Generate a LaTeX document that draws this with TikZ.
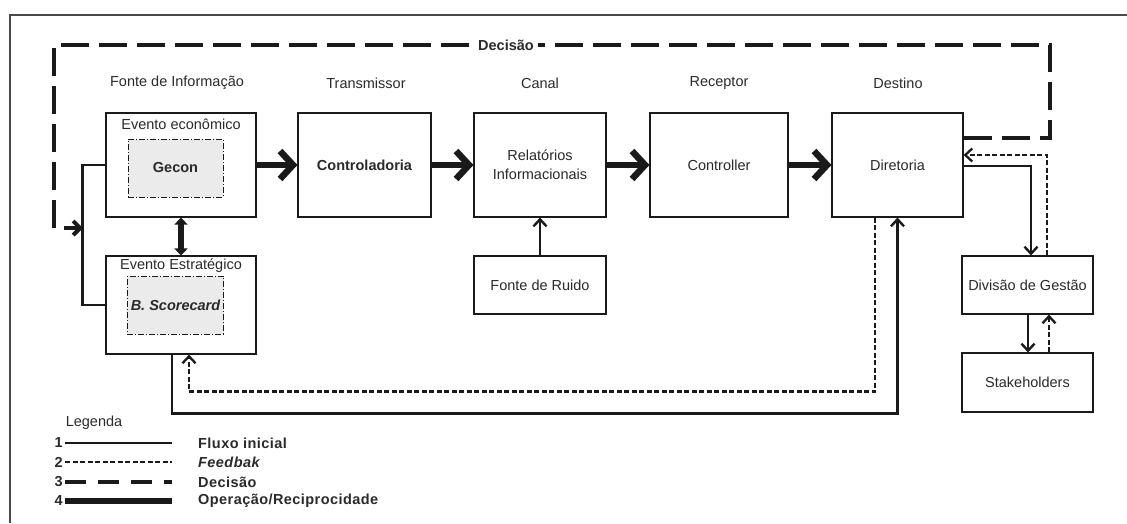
\documentclass[tikz,border=0pt]{standalone}
\usepackage{fontspec}
\setmainfont{Liberation Sans}
\usetikzlibrary{arrows.meta}
\definecolor{ink}{HTML}{1A1A1A}
\definecolor{txt}{HTML}{2A2A2A}
\definecolor{shade}{HTML}{EBEBEB}
\definecolor{framec}{HTML}{4A4A4A}
\begin{document}
\begin{tikzpicture}[x=1pt,y=-1pt,
  lbl/.style={font=\fontsize{14.5}{17}\selectfont, text=txt, inner sep=0pt},
  box/.style={draw=ink, line width=1.1pt, fill=white, inner sep=2pt, align=center,
    font=\fontsize{14.5}{19}\selectfont, text=txt},
  innerbox/.style={draw=ink, line width=1pt, dash pattern=on 6pt off 2pt on 1pt off 2pt,
    fill=shade, minimum width=95pt, minimum height=58pt,
    font=\fontsize{14.5}{17}\selectfont, text=txt},
  flow/.style={draw=ink, line width=2.4pt},
  tipflow/.style={-{Straight Barb[length=7pt,width=13pt]}},
  fb/.style={draw=ink, line width=2.3pt, dash pattern=on 5pt off 2.5pt},
  dec/.style={draw=ink, line width=4pt, dash pattern=on 28pt off 10pt},
  op/.style={draw=ink, line width=6.5pt, -{Straight Barb[length=13pt,width=28pt]}},
  legtext/.style={font=\bfseries\fontsize{14.5}{17}\selectfont\addfontfeature{LetterSpace=3},
    text=txt, inner sep=0pt, anchor=west},
  legnum/.style={font=\bfseries\fontsize{14.5}{17}\selectfont, text=txt, inner sep=0pt, anchor=east},
]
\useasboundingbox (0,0) rectangle (1127,523);

% outer frame
\draw[framec, line width=1.3pt] (10,523) -- (10,15) -- (1127,15);

% column headings
\node[lbl] (h1) at (177,83) {Fonte de Informação};
\node[lbl] (h2) at (366,83) {Transmissor};
\node[lbl] (h3) at (540,83) {Canal};
\node[lbl] (h4) at (719,83) {Receptor};
\node[lbl] (h5) at (898,83) {Destino};

% information source: two events
\node[box, minimum width=150pt, minimum height=104pt] (ee) at (181,165) {};
\node[innerbox] (gecon) at (175.5,168) {\bfseries Gecon};
\node[lbl] (eelbl) at (181,124) {Evento econômico};
\node[box, minimum width=150pt, minimum height=98pt] (es) at (181,305) {};
\node[innerbox] (bsc) at (175.5,305) {\bfseries\itshape B. Scorecard};
\node[lbl] (eslbl) at (181,266) {Evento Estratégico};

% main chain
\node[box, minimum width=133pt, minimum height=104pt] (ctrl) at (364.5,165) {\bfseries Controladoria};
\node[box, minimum width=132pt, minimum height=104pt] (rel) at (540,165) {Relatórios\\Informacionais};
\node[box, minimum width=132pt, minimum height=58pt] (ruido) at (540,285) {Fonte de Ruido};
\node[box, minimum width=138pt, minimum height=104pt] (rec) at (719,165) {Controller};
\node[box, minimum width=131pt, minimum height=104pt] (dir) at (897.5,165) {Diretoria};
\node[box, minimum width=131pt, minimum height=58pt] (div) at (1027.5,285) {Divisão de Gestão};
\node[box, minimum width=131pt, minimum height=59pt] (stk) at (1027.5,382.5) {Stakeholders};

% operation arrows
\draw[op] (ee) -- (ctrl);
\draw[op] (ctrl) -- (rel);
\draw[op] (rel) -- (rec);
\draw[op] (rec) -- (dir);
\draw[draw=ink, line width=5.5pt,
  {Triangle[length=7pt,width=13pt]}-{Triangle[length=7pt,width=13pt]}] (ee) -- (es);

% initial flow
\draw[flow] (ee.west) -- ++(-23,0) |- (es.west);
\draw[flow, tipflow] (ruido) -- (rel);
\draw[flow, tipflow] ([yshift=-1pt]dir.east) -| ([xshift=3.5pt]div.north);
\draw[flow, tipflow] ([xshift=0.5pt]div.south) -- ([xshift=0.5pt]stk.north);
\draw[flow, tipflow] ([xshift=-9pt]es.south) -- ++(0,59) -| (dir.south);

% feedback
\draw[fb, tipflow] ([xshift=19.5pt]div.north) |- ([yshift=10pt]dir.east);
\draw[fb, tipflow] ([xshift=21.5pt]stk.north) -- ([xshift=21.5pt]div.south);
\draw[fb, tipflow] ([xshift=-22.5pt]dir.south) -- ++(0,174) -| ([xshift=8pt]es.south);

% decision loop
\coordinate (decin) at (83,228);
\draw[dec, -{Straight Barb[length=7pt,width=14pt]}]
  ([yshift=27pt]dir.east) -- (1050,138) -- (1050,45) -- (54,45) -- (54,228) -- (decin);
\node[fill=white, inner sep=4pt, font=\bfseries\fontsize{14.5}{17}\selectfont, text=txt] (declbl) at (506,45) {Decisão};

% legend
\node[lbl] (legtitle) at (94,423) {Legenda};
\node[legnum] (n1) at (63,443) {1};
\node[legnum] (n2) at (63,462) {2};
\node[legnum] (n3) at (63,482) {3};
\node[legnum] (n4) at (63,501) {4};
\draw[flow] ([xshift=2pt]n1.east) -- ++(107,0);
\draw[fb, line width=1.8pt] ([xshift=2pt]n2.east) -- ++(107,0);
\draw[draw=ink, line width=3.2pt, dash pattern=on 21pt off 12pt] ([xshift=2pt]n3.east) -- ++(107,0);
\draw[draw=ink, line width=6pt] ([xshift=2pt]n4.east) -- ++(107,0);
\node[legtext] (l1) at (198,443) {Fluxo inicial};
\node[legtext] (l2) at (198,462) {\itshape Feedbak};
\node[legtext] (l3) at (198,482) {Decisão};
\node[legtext] (l4) at (198,501) {Operação/Reciprocidade};
\end{tikzpicture}
\end{document}
